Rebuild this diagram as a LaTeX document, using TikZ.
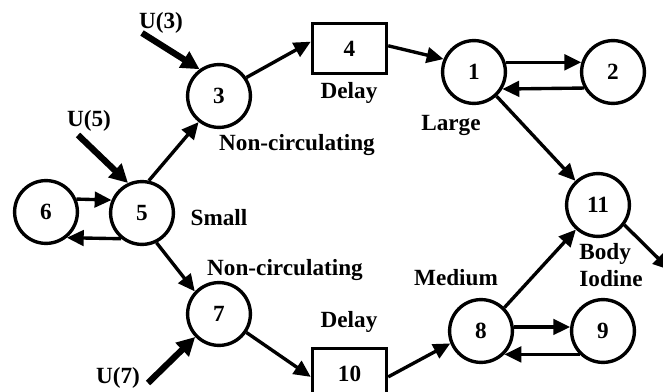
\documentclass[tikz,border=0pt]{standalone}
\usepackage{fontspec}
\setmainfont{Liberation Serif}
\usetikzlibrary{arrows.meta}

\begin{document}
\begin{tikzpicture}[x=0.025cm, y=-0.025cm,
    font=\bfseries\fontsize{16.5}{19}\selectfont,
    pool/.style={draw, circle, line width=2.4pt, minimum size=1.57cm, inner sep=0pt},
    delaybox/.style={draw, rectangle, line width=2.4pt, minimum width=1.85cm, minimum height=1.25cm},
    flow/.style={line width=2.4pt, -{Triangle[length=12pt,width=11pt]}},
    dose/.style={line width=4.5pt, -{Triangle[length=13pt,width=13pt]}}]
    \useasboundingbox (0,0) rectangle (663,392);
    % compartments
    \node[pool] (n1) at (474,72) {1};
    \node[pool] (n2) at (613,72) {2};
    \node[pool] (n3) at (219,96) {3};
    \node[pool] (n5) at (142,213) {5};
    \node[pool] (n6) at (46,212) {6};
    \node[pool] (n7) at (219,314) {7};
    \node[pool] (n8) at (481,331) {8};
    \node[pool] (n9) at (603,331) {9};
    \node[pool] (n11) at (598,205) {11};
    \node[delaybox] (n4) at (349.5,48.5) {4};
    \node[delaybox] (n10) at (349.5,373.5) {10};
    % labels
    \node (lD4) at (349,93) {Delay};
    \node (lD10) at (349,322) {Delay};
    \node (lNc3) at (297,145) {Non-circulating};
    \node (lNc7) at (285,270) {Non-circulating};
    \node (lSmall) at (219,218) {Small};
    \node (lLarge) at (451,125) {Large};
    \node (lMedium) at (456,278) {Medium};
    \node[align=left] (lBody) at (611,265) {Body\\Iodine};
    \node (U3) at (161,23) {U(3)};
    \node (U5) at (89,121) {U(5)};
    \node (U7) at (118,378) {U(7)};
    % inputs
    \coordinate (t3) at (142,33);
    \coordinate (t5) at (78,135);
    \coordinate (t7) at (148,383);
    \coordinate (out) at (670,270);
    \path (t3) edge[dose] (n3.126);
    \path (t5) edge[dose] (n5.115);
    \path (t7) edge[dose] (n7.224);
    % flows
    \path (n5.78) edge[flow] (n3.232);
    \path (n3.34) edge[flow] (n4.170);
    \path (n4.4) edge[flow] (n1.157);
    \path (n1.17) edge[flow] (n2.163);
    \path (n2.-151) edge[flow] (n1.-31);
    \path (n1) edge[flow] (n11);
    \path (n6.23) edge[flow] (n5.157);
    \path (n5.-129) edge[flow] (n6.-51);
    \path (n5.-64) edge[flow] (n7.137);
    \path (n7.-34) edge[flow] (n10.185);
    \path (n10.-5) edge[flow] (n8.202);
    \path (n8.45) edge[flow] (n11.228);
    \path (n8.7) edge[flow] (n9.173);
    \path (n9.-135) edge[flow] (n8.-45);
    \path (n11.-37) edge[flow] (out);
\end{tikzpicture}
\end{document}
